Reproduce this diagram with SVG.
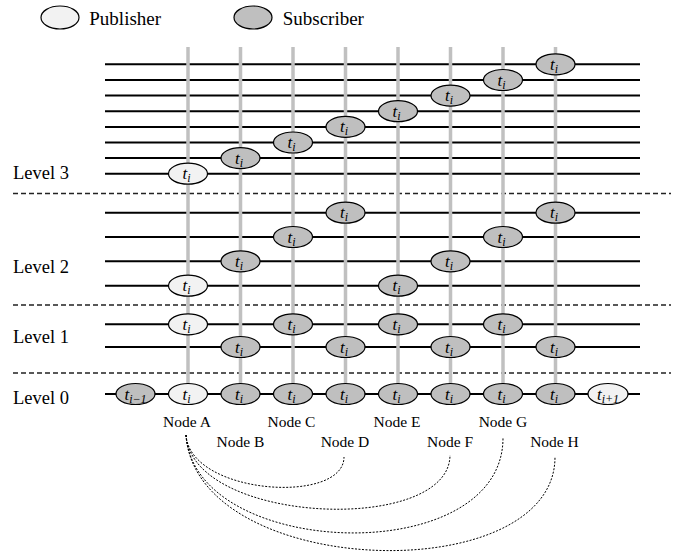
<svg xmlns="http://www.w3.org/2000/svg" width="683" height="556" viewBox="0 0 683 556">
<style>
.bg{fill:#fff}
.h{stroke:#000;stroke-width:2;fill:none}
.sep{stroke:#222;stroke-width:1.3;stroke-dasharray:5 3;fill:none}
.v{stroke:#c0c0c0;stroke-width:3.5;fill:none}
.pub{fill:#f2f2f2;stroke:#000;stroke-width:1.2}
.sub{fill:#bfbfbf;stroke:#000;stroke-width:1.2}
.t{font-family:"Liberation Serif",serif;font-style:italic;font-size:17px;text-anchor:middle;fill:#000}
.s{font-size:12px}
.lbl{font-family:"Liberation Serif",serif;font-size:15.5px;text-anchor:middle;fill:#000}
.lvl{font-family:"Liberation Serif",serif;font-size:18.5px;fill:#000}
.leg{font-family:"Liberation Serif",serif;font-size:19px;fill:#000}
.c{stroke:#000;stroke-width:1;stroke-dasharray:2 1.5;fill:none}
</style>
<rect class="bg" width="683" height="556"/>

<g id="legend">
<ellipse class="pub" cx="60" cy="17.5" rx="19" ry="11.5"/>
<text class="leg" x="89.3" y="25">Publisher</text>
<ellipse class="sub" cx="253" cy="17.5" rx="19" ry="11.5"/>
<text class="leg" x="282.7" y="25">Subscriber</text>
</g>

<g id="level-labels">
<text class="lvl" x="13" y="179">Level 3</text>
<text class="lvl" x="13" y="272.7">Level 2</text>
<text class="lvl" x="13" y="342.7">Level 1</text>
<text class="lvl" x="13" y="404.3">Level 0</text>
</g>

<g id="rings">
<line class="h" x1="105" y1="64.3" x2="640" y2="64.3"/>
<line class="h" x1="105" y1="80" x2="640" y2="80"/>
<line class="h" x1="105" y1="95.6" x2="640" y2="95.6"/>
<line class="h" x1="105" y1="111.2" x2="640" y2="111.2"/>
<line class="h" x1="105" y1="126.9" x2="640" y2="126.9"/>
<line class="h" x1="105" y1="142.5" x2="640" y2="142.5"/>
<line class="h" x1="105" y1="158.1" x2="640" y2="158.1"/>
<line class="h" x1="105" y1="173.7" x2="640" y2="173.7"/>
<line class="h" x1="105" y1="212.7" x2="640" y2="212.7"/>
<line class="h" x1="105" y1="237" x2="640" y2="237"/>
<line class="h" x1="105" y1="261.3" x2="640" y2="261.3"/>
<line class="h" x1="105" y1="285.7" x2="640" y2="285.7"/>
<line class="h" x1="105" y1="324.3" x2="640" y2="324.3"/>
<line class="h" x1="105" y1="347" x2="640" y2="347"/>
<line class="h" x1="105" y1="394" x2="640" y2="394"/>
</g>

<g id="separators">
<line class="sep" x1="13" y1="193.5" x2="671" y2="193.5"/>
<line class="sep" x1="13" y1="305" x2="671" y2="305"/>
<line class="sep" x1="13" y1="373" x2="671" y2="373"/>
</g>

<g id="columns">
<line class="v" x1="188" y1="47" x2="188" y2="394"/>
<line class="v" x1="240.5" y1="47" x2="240.5" y2="394"/>
<line class="v" x1="293" y1="47" x2="293" y2="394"/>
<line class="v" x1="345.5" y1="47" x2="345.5" y2="394"/>
<line class="v" x1="398" y1="47" x2="398" y2="394"/>
<line class="v" x1="450.5" y1="47" x2="450.5" y2="394"/>
<line class="v" x1="503" y1="47" x2="503" y2="394"/>
<line class="v" x1="555.5" y1="47" x2="555.5" y2="394"/>
</g>

<g id="connectors">
<path class="c" d="M186,435 C190,495 344,505 344,457"/>
<path class="c" d="M186,435 C192,525 450,535 450,455"/>
<path class="c" d="M186,435 C194,560 503,570 503,438"/>
<path class="c" d="M186,435 C196,580 555,590 555,457"/>
</g>

<g id="node-prev">
<ellipse class="sub" cx="135.5" cy="394" rx="19.5" ry="10.5"/>
<text class="t" x="135.5" y="399.5">t<tspan class="s" dy="3">i−1</tspan></text>
</g>

<g id="node-A">
<ellipse class="pub" cx="188" cy="173.7" rx="19.5" ry="10.5"/>
<text class="t" x="186.5" y="179.2">t<tspan class="s" dy="3">i</tspan></text>
<ellipse class="pub" cx="188" cy="285.7" rx="19.5" ry="10.5"/>
<text class="t" x="186.5" y="291.2">t<tspan class="s" dy="3">i</tspan></text>
<ellipse class="pub" cx="188" cy="324.3" rx="19.5" ry="10.5"/>
<text class="t" x="186.5" y="329.8">t<tspan class="s" dy="3">i</tspan></text>
<ellipse class="pub" cx="188" cy="394" rx="19.5" ry="10.5"/>
<text class="t" x="186.5" y="399.5">t<tspan class="s" dy="3">i</tspan></text>
<text class="lbl" x="187" y="427.3">Node A</text>
</g>

<g id="node-B">
<ellipse class="sub" cx="240.5" cy="158.1" rx="19.5" ry="10.5"/>
<text class="t" x="239" y="163.6">t<tspan class="s" dy="3">i</tspan></text>
<ellipse class="sub" cx="240.5" cy="261.3" rx="19.5" ry="10.5"/>
<text class="t" x="239" y="266.8">t<tspan class="s" dy="3">i</tspan></text>
<ellipse class="sub" cx="240.5" cy="347" rx="19.5" ry="10.5"/>
<text class="t" x="239" y="352.5">t<tspan class="s" dy="3">i</tspan></text>
<ellipse class="sub" cx="240.5" cy="394" rx="19.5" ry="10.5"/>
<text class="t" x="239" y="399.5">t<tspan class="s" dy="3">i</tspan></text>
<text class="lbl" x="240.5" y="447.3">Node B</text>
</g>

<g id="node-C">
<ellipse class="sub" cx="293" cy="142.5" rx="19.5" ry="10.5"/>
<text class="t" x="291.5" y="148">t<tspan class="s" dy="3">i</tspan></text>
<ellipse class="sub" cx="293" cy="237" rx="19.5" ry="10.5"/>
<text class="t" x="291.5" y="242.5">t<tspan class="s" dy="3">i</tspan></text>
<ellipse class="sub" cx="293" cy="324.3" rx="19.5" ry="10.5"/>
<text class="t" x="291.5" y="329.8">t<tspan class="s" dy="3">i</tspan></text>
<ellipse class="sub" cx="293" cy="394" rx="19.5" ry="10.5"/>
<text class="t" x="291.5" y="399.5">t<tspan class="s" dy="3">i</tspan></text>
<text class="lbl" x="291.5" y="427.3">Node C</text>
</g>

<g id="node-D">
<ellipse class="sub" cx="345.5" cy="126.9" rx="19.5" ry="10.5"/>
<text class="t" x="344" y="132.4">t<tspan class="s" dy="3">i</tspan></text>
<ellipse class="sub" cx="345.5" cy="212.7" rx="19.5" ry="10.5"/>
<text class="t" x="344" y="218.2">t<tspan class="s" dy="3">i</tspan></text>
<ellipse class="sub" cx="345.5" cy="347" rx="19.5" ry="10.5"/>
<text class="t" x="344" y="352.5">t<tspan class="s" dy="3">i</tspan></text>
<ellipse class="sub" cx="345.5" cy="394" rx="19.5" ry="10.5"/>
<text class="t" x="344" y="399.5">t<tspan class="s" dy="3">i</tspan></text>
<text class="lbl" x="345" y="447.3">Node D</text>
</g>

<g id="node-E">
<ellipse class="sub" cx="398" cy="111.2" rx="19.5" ry="10.5"/>
<text class="t" x="396.5" y="116.7">t<tspan class="s" dy="3">i</tspan></text>
<ellipse class="sub" cx="398" cy="285.7" rx="19.5" ry="10.5"/>
<text class="t" x="396.5" y="291.2">t<tspan class="s" dy="3">i</tspan></text>
<ellipse class="sub" cx="398" cy="324.3" rx="19.5" ry="10.5"/>
<text class="t" x="396.5" y="329.8">t<tspan class="s" dy="3">i</tspan></text>
<ellipse class="sub" cx="398" cy="394" rx="19.5" ry="10.5"/>
<text class="t" x="396.5" y="399.5">t<tspan class="s" dy="3">i</tspan></text>
<text class="lbl" x="397" y="427.3">Node E</text>
</g>

<g id="node-F">
<ellipse class="sub" cx="450.5" cy="95.6" rx="19.5" ry="10.5"/>
<text class="t" x="449" y="101.1">t<tspan class="s" dy="3">i</tspan></text>
<ellipse class="sub" cx="450.5" cy="261.3" rx="19.5" ry="10.5"/>
<text class="t" x="449" y="266.8">t<tspan class="s" dy="3">i</tspan></text>
<ellipse class="sub" cx="450.5" cy="347" rx="19.5" ry="10.5"/>
<text class="t" x="449" y="352.5">t<tspan class="s" dy="3">i</tspan></text>
<ellipse class="sub" cx="450.5" cy="394" rx="19.5" ry="10.5"/>
<text class="t" x="449" y="399.5">t<tspan class="s" dy="3">i</tspan></text>
<text class="lbl" x="450" y="447.3">Node F</text>
</g>

<g id="node-G">
<ellipse class="sub" cx="503" cy="80" rx="19.5" ry="10.5"/>
<text class="t" x="501.5" y="85.5">t<tspan class="s" dy="3">i</tspan></text>
<ellipse class="sub" cx="503" cy="237" rx="19.5" ry="10.5"/>
<text class="t" x="501.5" y="242.5">t<tspan class="s" dy="3">i</tspan></text>
<ellipse class="sub" cx="503" cy="324.3" rx="19.5" ry="10.5"/>
<text class="t" x="501.5" y="329.8">t<tspan class="s" dy="3">i</tspan></text>
<ellipse class="sub" cx="503" cy="394" rx="19.5" ry="10.5"/>
<text class="t" x="501.5" y="399.5">t<tspan class="s" dy="3">i</tspan></text>
<text class="lbl" x="503" y="427.3">Node G</text>
</g>

<g id="node-H">
<ellipse class="sub" cx="555.5" cy="64.3" rx="19.5" ry="10.5"/>
<text class="t" x="554" y="69.8">t<tspan class="s" dy="3">i</tspan></text>
<ellipse class="sub" cx="555.5" cy="212.7" rx="19.5" ry="10.5"/>
<text class="t" x="554" y="218.2">t<tspan class="s" dy="3">i</tspan></text>
<ellipse class="sub" cx="555.5" cy="347" rx="19.5" ry="10.5"/>
<text class="t" x="554" y="352.5">t<tspan class="s" dy="3">i</tspan></text>
<ellipse class="sub" cx="555.5" cy="394" rx="19.5" ry="10.5"/>
<text class="t" x="554" y="399.5">t<tspan class="s" dy="3">i</tspan></text>
<text class="lbl" x="554.5" y="447.3">Node H</text>
</g>

<g id="node-next">
<ellipse class="pub" cx="608" cy="394" rx="20" ry="10.5"/>
<text class="t" x="608" y="399.5">t<tspan class="s" dy="3">i+1</tspan></text>
</g>
</svg>
